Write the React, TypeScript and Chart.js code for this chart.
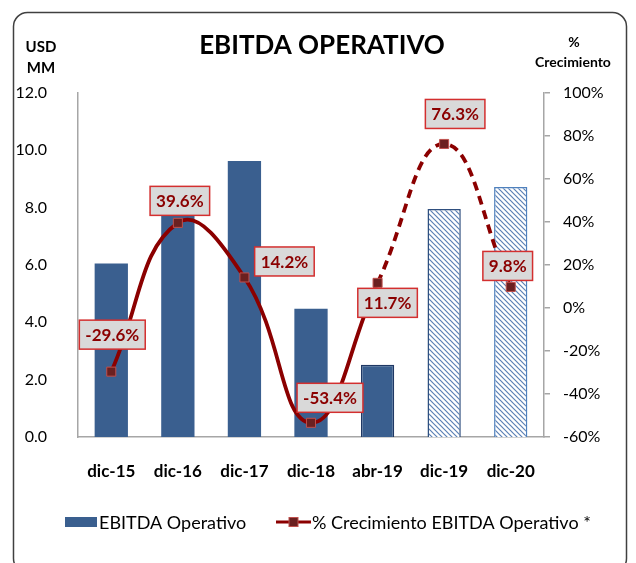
import React, { useEffect, useRef } from "react";
import { Chart, registerables } from "chart.js";

Chart.register(...registerables);

// ---- Data ----
const categories = ["dic-15", "dic-16", "dic-17", "dic-18", "abr-19", "dic-19", "dic-20"];
const ebitdaValues = [6.05, 8.4, 9.63, 4.47, 2.52, 7.95, 8.72];
const growthValues = [-29.6, 39.6, 14.2, -53.4, 11.7, 76.3, 9.8];
const projectedStartIndex = 5; // hatched (projected) bars from this index
const dashedStartIndex = 4; // dashed growth line from this index
const titleText = "EBITDA OPERATIVO";
const leftAxisTitle = ["USD", "MM"];
const rightAxisTitle = ["%", "Crecimiento"];
const barLegend = "EBITDA Operativo";
const lineLegend = "% Crecimiento EBITDA Operativo *";

// ---- Styling ----
const FONT = "Lato, 'Open Sans', sans-serif";
const BAR_BLUE = "#3A5F8F";
const LINE_RED = "#8B0000";
const MARKER_FILL = "#6B2020";
const MARKER_BORDER = "#C0504D";
const AXIS_GRAY = "#A6A6A6";
// label box offsets relative to the point (px)
const labelOffsets: [number, number][] = [
  [1, -37],
  [2, -22],
  [40, -16],
  [19, -25],
  [10, 20],
  [11, -30],
  [-3, -21],
];

function makeHatch(): CanvasPattern | string {
  const s = 5;
  const c = document.createElement("canvas");
  c.width = s;
  c.height = s;
  const g = c.getContext("2d");
  if (!g) return "#ffffff";
  g.fillStyle = "#ffffff";
  g.fillRect(0, 0, s, s);
  g.strokeStyle = "#5B80B5";
  g.lineWidth = 1.2;
  for (const off of [-s, 0, s]) {
    g.beginPath();
    g.moveTo(-1, -1 + off);
    g.lineTo(s + 1, s + 1 + off);
    g.stroke();
  }
  const p = g.createPattern(c, "repeat");
  return p || "#ffffff";
}

function roundRect(ctx: CanvasRenderingContext2D, x: number, y: number, w: number, h: number, r: number) {
  ctx.beginPath();
  ctx.moveTo(x + r, y);
  ctx.lineTo(x + w - r, y);
  ctx.arcTo(x + w, y, x + w, y + r, r);
  ctx.lineTo(x + w, y + h - r);
  ctx.arcTo(x + w, y + h, x + w - r, y + h, r);
  ctx.lineTo(x + r, y + h);
  ctx.arcTo(x, y + h, x, y + h - r, r);
  ctx.lineTo(x, y + r);
  ctx.arcTo(x, y, x + r, y, r);
  ctx.closePath();
}

const decorPlugin = {
  id: "decor",
  beforeDraw(chart: any) {
    const ctx: CanvasRenderingContext2D = chart.ctx;
    ctx.save();
    ctx.fillStyle = "#ffffff";
    ctx.fillRect(0, 0, chart.width, chart.height);
    roundRect(ctx, 13.5, 12.5, 613, 560, 14);
    ctx.strokeStyle = "#404040";
    ctx.lineWidth = 1.5;
    ctx.stroke();
    ctx.restore();
  },
  afterDatasetsDraw(chart: any) {
    const ctx: CanvasRenderingContext2D = chart.ctx;
    const meta = chart.getDatasetMeta(1);
    ctx.save();
    ctx.font = `bold 17px ${FONT}`;
    ctx.textAlign = "center";
    ctx.textBaseline = "middle";
    meta.data.forEach((pt: any, i: number) => {
      const txt = growthValues[i].toFixed(1) + "%";
      const [dx, dy] = labelOffsets[i];
      const cx = pt.x + dx;
      const cy = pt.y + dy;
      const w = ctx.measureText(txt).width + 12;
      const h = 29;
      ctx.fillStyle = "#D9D9D9";
      ctx.fillRect(cx - w / 2, cy - h / 2, w, h);
      ctx.strokeStyle = "#D32F2F";
      ctx.lineWidth = 1.5;
      ctx.strokeRect(cx - w / 2, cy - h / 2, w, h);
      ctx.fillStyle = LINE_RED;
      ctx.fillText(txt, cx, cy + 1);
    });
    ctx.restore();
  },
  afterDraw(chart: any) {
    const ctx: CanvasRenderingContext2D = chart.ctx;
    ctx.save();
    ctx.textBaseline = "middle";
    ctx.textAlign = "center";
    ctx.fillStyle = "#000000";
    ctx.font = `bold 26px ${FONT}`;
    ctx.fillText(titleText, 322, 46);
    ctx.font = `bold 15px ${FONT}`;
    ctx.fillText(leftAxisTitle[0], 41, 47);
    ctx.fillText(leftAxisTitle[1], 41, 68);
    ctx.font = `bold 14px ${FONT}`;
    ctx.fillText(rightAxisTitle[0], 574, 42);
    ctx.fillText(rightAxisTitle[1], 573, 62);

    // legend
    const ly = 522;
    ctx.fillStyle = BAR_BLUE;
    ctx.fillRect(65, ly - 5, 32, 10);
    ctx.fillStyle = "#000000";
    ctx.textAlign = "left";
    ctx.font = `18px ${FONT}`;
    ctx.fillText(barLegend, 99, ly + 1);
    ctx.strokeStyle = LINE_RED;
    ctx.lineWidth = 3;
    ctx.beginPath();
    ctx.moveTo(276, ly);
    ctx.lineTo(311, ly);
    ctx.stroke();
    ctx.fillStyle = MARKER_FILL;
    ctx.fillRect(289, ly - 4.5, 9, 9);
    ctx.strokeStyle = MARKER_BORDER;
    ctx.lineWidth = 1;
    ctx.strokeRect(289, ly - 4.5, 9, 9);
    ctx.fillStyle = "#000000";
    ctx.fillText(lineLegend, 312, ly + 1);
    ctx.restore();
  },
};

export default function App() {
  const ref = useRef<HTMLCanvasElement | null>(null);
  useEffect(() => {
    if (!ref.current) return;
    const hatch = makeHatch();
    const barColors = categories.map((_, i) => (i >= projectedStartIndex ? hatch : BAR_BLUE));
    const barBorders = categories.map((_, i) =>
      i >= projectedStartIndex ? (i === projectedStartIndex ? "#2F4F7F" : "#4F81BD") : i === dashedStartIndex ? "#1F3864" : BAR_BLUE
    );
    const barBorderWidths = categories.map((_, i) => (i >= dashedStartIndex ? 1.5 : 0));
    const chart = new Chart(ref.current, {
      type: "bar",
      data: {
        labels: categories,
        datasets: [
          {
            type: "bar",
            label: barLegend,
            data: ebitdaValues,
            yAxisID: "y",
            backgroundColor: barColors as any,
            borderColor: barBorders,
            borderWidth: barBorderWidths,
            barPercentage: 0.5,
            categoryPercentage: 1,
            order: 2,
          },
          {
            type: "line",
            label: lineLegend,
            data: growthValues,
            yAxisID: "y1",
            borderColor: LINE_RED,
            borderWidth: 3.8,
            tension: 0.45,
            fill: false,
            pointStyle: "rect",
            pointRadius: 6.4,
            pointBackgroundColor: MARKER_FILL,
            pointBorderColor: MARKER_BORDER,
            pointBorderWidth: 1,
            segment: {
              borderDash: (c: any) => (c.p0DataIndex >= dashedStartIndex ? [9, 6] : undefined),
            },
            order: 1,
          } as any,
        ],
      },
      options: {
        responsive: false,
        animation: false,
        layout: { padding: { top: 93, left: 0, right: 0, bottom: 0 } },
        plugins: {
          legend: { display: false },
          title: { display: false },
          tooltip: { enabled: false },
        },
        scales: {
          x: {
            grid: { display: false },
            border: { display: true, color: AXIS_GRAY, width: 1.5 },
            ticks: {
              color: "#000000",
              font: { family: FONT, size: 17, weight: "bold" },
              padding: 16,
              maxRotation: 0,
            },
            afterFit: (s: any) => {
              s.height = 126;
            },
          },
          y: {
            position: "left",
            min: 0,
            max: 12,
            grid: { display: false },
            border: { display: true, color: AXIS_GRAY, width: 1.5 },
            ticks: {
              stepSize: 2,
              color: "#000000",
              font: { family: FONT, size: 16 },
              padding: 23,
              callback: (v: any) => Number(v).toFixed(1),
            },
            afterFit: (s: any) => {
              s.width = 78;
            },
          },
          y1: {
            position: "right",
            min: -60,
            max: 100,
            grid: { display: true, drawOnChartArea: false, drawTicks: true, tickLength: 6, color: AXIS_GRAY, lineWidth: 1.5 },
            border: { display: true, color: AXIS_GRAY, width: 1.5 },
            ticks: {
              stepSize: 20,
              color: "#000000",
              font: { family: FONT, size: 16 },
              padding: 13,
              callback: (v: any) => `${v}%`,
            },
            afterFit: (s: any) => {
              s.width = 92;
            },
          },
        },
      },
      plugins: [decorPlugin],
    });
    return () => chart.destroy();
  }, []);
  return (
    <div style={{ position: "absolute", left: 0, top: 0, width: 636, height: 563 }}>
      <canvas ref={ref} width={636} height={563} style={{ display: "block" }} />
    </div>
  );
}
